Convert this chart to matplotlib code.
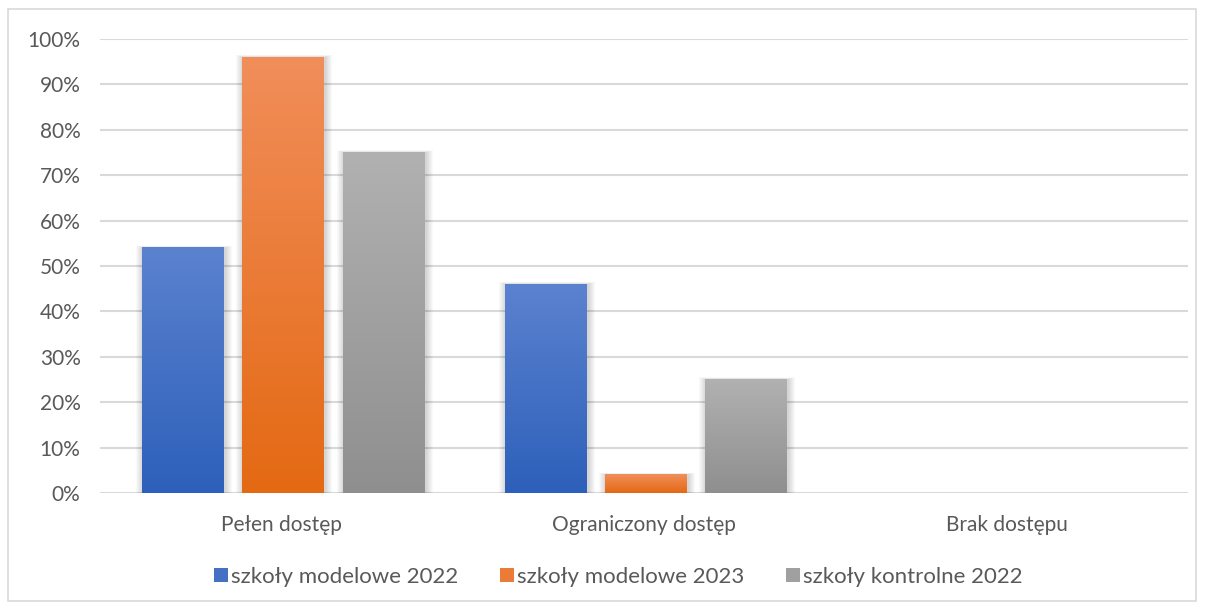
import matplotlib.pyplot as plt
import matplotlib.colors as mcolors
import numpy as np
from matplotlib.patches import Patch, Rectangle

plt.rcParams["font.family"] = ["Lato", "DejaVu Sans"]

categories = ["Pełen dostęp", "Ograniczony dostęp", "Brak dostępu"]
series = ["szkoły modelowe 2022", "szkoły modelowe 2023", "szkoły kontrolne 2022"]
model_2022 = [54, 46, 0]
model_2023 = [96, 4, 0]
control_2022 = [75, 25, 0]
yticks = [0, 10, 20, 30, 40, 50, 60, 70, 80, 90, 100]

# (top, bottom) colours of each series' vertical gradient
gradients = [("#5B82CF", "#2D60BA"), ("#F18E5A", "#E46913"), ("#B1B1B1", "#8F8F8F")]
text_color = "#595959"
grid_color = "#D9D9D9"

W, H = 1205, 610
fig = plt.figure(figsize=(W / 100, H / 100), dpi=100)
ax = fig.add_axes([100 / W, (H - 493) / H, (1188 - 100) / W, (493 - 39) / H])

ax.set_xlim(-0.5, 2.5)
ax.set_ylim(0, 100)
ax.set_yticks(yticks)
ax.set_yticklabels([f"{t}%" for t in yticks])
ax.set_xticks(range(len(categories)))
ax.set_xticklabels(categories)
ax.tick_params(length=0, labelsize=15, colors=text_color)
ax.tick_params(axis="y", pad=14)
ax.tick_params(axis="x", pad=16)
ax.yaxis.grid(True, color=grid_color, lw=1.5)
ax.set_axisbelow(True)
for sp in ax.spines.values():
    sp.set_visible(False)

px_x = 3.0 / 1088  # one pixel in data units
px_y = 100.0 / 454

bar_w = 0.226
offsets = [-0.277 + 2 * px_x, 2 * px_x, 0.277 + 2 * px_x]
for vals, off, (top, bot) in zip([model_2022, model_2023, control_2022], offsets, gradients):
    cmap = mcolors.LinearSegmentedColormap.from_list("g", [bot, top])
    grad = np.linspace(0, 1, 256).reshape(-1, 1)
    for i, v in enumerate(vals):
        if v <= 0:
            continue
        x0 = i + off - bar_w / 2
        # soft shadow around the bar
        for k in range(1, 8):
            ax.add_patch(Rectangle((x0 - k * px_x + px_x, -k * px_y * 0.3),
                                   bar_w + 2 * k * px_x, v + k * px_y * 0.6,
                                   facecolor="black", edgecolor="none",
                                   alpha=0.022, zorder=2))
        ax.imshow(grad, extent=(x0, x0 + bar_w, 0, v), origin="lower",
                  cmap=cmap, aspect="auto", zorder=3, interpolation="bilinear")

ax.set_xlim(-0.5, 2.5)
ax.set_ylim(0, 100)

handles = [Patch(facecolor=mcolors.to_hex(np.mean([mcolors.to_rgb(a), mcolors.to_rgb(b)], axis=0)),
                 edgecolor="none", label=s) for s, (a, b) in zip(series, gradients)]
leg = fig.legend(handles=handles, loc="center", bbox_to_anchor=(0.5 + 16 / W, 1 - 577 / H), ncol=3,
                 frameon=False, fontsize=16, handlelength=0.6, handleheight=0.6,
                 handletextpad=0.15, columnspacing=1.9)
for t in leg.get_texts():
    t.set_color(text_color)

fig.patches.append(Rectangle((8 / W, 9 / H), (1196 - 8) / W, (601 - 9) / H,
                             transform=fig.transFigure, fill=False,
                             edgecolor=grid_color, lw=1.2))

fig.savefig("out.png", dpi=100)
